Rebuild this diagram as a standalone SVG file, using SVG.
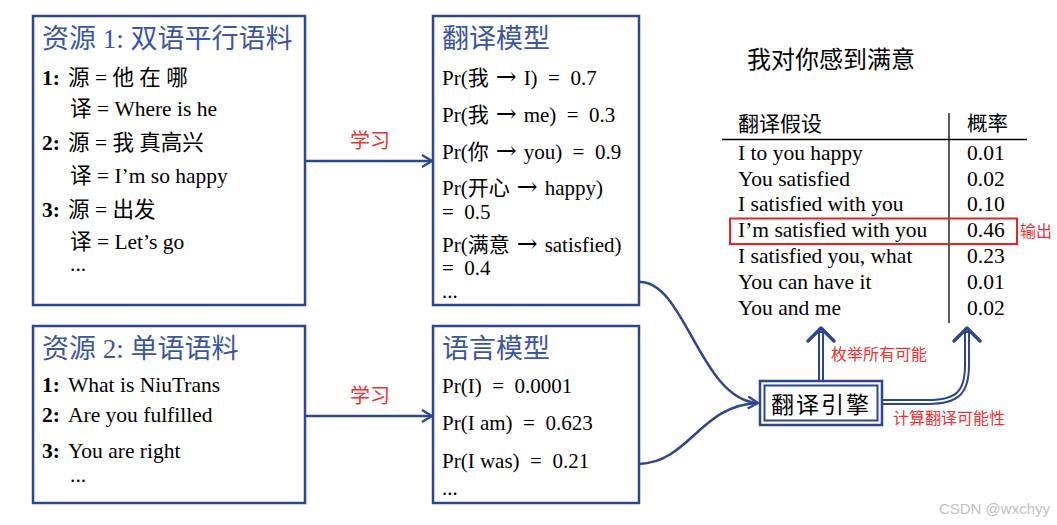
<svg xmlns="http://www.w3.org/2000/svg" width="1057" height="525" viewBox="0 0 1057 525">
<style>
.box{fill:#fff;stroke:#2c4594;stroke-width:2.5}
.title{font-family:"Liberation Serif","Noto Sans CJK SC",serif;font-size:27px;fill:#3a55a6}
.t{font-family:"Liberation Serif","Noto Sans CJK SC",serif;font-size:21.5px;fill:#000}
.m{font-family:"Liberation Serif","Noto Sans CJK SC",serif;font-size:21px;fill:#000}
.tb{font-family:"Liberation Serif","Noto Sans CJK SC",serif;font-size:21.5px;fill:#000}
.b{font-weight:bold}
.ar{font-family:"DejaVu Serif",serif;font-size:25px}
.red{font-family:"Noto Sans CJK SC",sans-serif;fill:#f03030}
.cn{font-family:"Noto Sans CJK SC",sans-serif;fill:#000}
.conn{fill:none;stroke:#2c4594;stroke-width:2.5}
.dbl{fill:none;stroke:#2c4594;stroke-width:6}
.dbli{fill:none;stroke:#fff;stroke-width:2}
.head{fill:none;stroke:#2c4594;stroke-width:3.5;stroke-linecap:round;stroke-linejoin:round}
</style>
<defs>
<marker id="arr" viewBox="0 0 12 14" refX="11" refY="7" markerWidth="12" markerHeight="14" markerUnits="userSpaceOnUse" orient="auto">
<path d="M1,1 L11,7 L1,13" fill="none" stroke="#2c4594" stroke-width="2.2"/>
</marker>
</defs>
<rect width="1057" height="525" fill="#fff"/>

<g id="connectors">
<line class="conn" x1="305" y1="161" x2="432" y2="161" marker-end="url(#arr)"/>
<text class="red" x="370" y="148" font-size="20" text-anchor="middle">学习</text>
<line class="conn" x1="305" y1="416" x2="432" y2="416" marker-end="url(#arr)"/>
<text class="red" x="370" y="403" font-size="20" text-anchor="middle">学习</text>
<path class="conn" d="M639,282 C685,280 700,400 758,403" marker-end="url(#arr)"/>
<path class="conn" d="M639,464 C690,462 700,405 758,403"/>
<path class="dbl" d="M821,381 L821,331"/>
<path class="dbli" d="M821,383 L821,333"/>
<path class="head" d="M808,341 L821,328 L834,341"/>
<path class="dbl" d="M882,402 L928,402 C958,402 967,392 967,365 L967,331"/>
<path class="dbli" d="M880,402 L928,402 C958,402 967,392 967,365 L967,333"/>
<path class="head" d="M954,341 L967,328 L980,341"/>
<text class="red" x="831" y="360" font-size="16">枚举所有可能</text>
<text class="red" x="893" y="424" font-size="16">计算翻译可能性</text>
</g>

<g id="res1">
<rect class="box" x="33" y="16" width="272" height="289"/>
<text class="title" x="42" y="48">资源 1: 双语平行语料</text>
<text class="t b" x="42" y="85">1:</text>
<text class="t" x="68" y="85">源 = 他 在 哪</text>
<text class="t" x="70" y="116">译 = Where is he</text>
<text class="t b" x="42" y="150">2:</text>
<text class="t" x="68" y="150">源 = 我 真高兴</text>
<text class="t" x="70" y="183">译 = I’m so happy</text>
<text class="t b" x="42" y="217">3:</text>
<text class="t" x="68" y="217">源 = 出发</text>
<text class="t" x="70" y="249">译 = Let’s go</text>
<text class="t" x="70" y="271">...</text>
</g>

<g id="res2">
<rect class="box" x="33" y="326" width="272" height="177"/>
<text class="title" x="42" y="358">资源 2: 单语语料</text>
<text class="t b" x="42" y="392">1:</text>
<text class="t" x="68" y="392">What is NiuTrans</text>
<text class="t b" x="42" y="422">2:</text>
<text class="t" x="68" y="422">Are you fulfilled</text>
<text class="t b" x="42" y="458">3:</text>
<text class="t" x="68" y="458">You are right</text>
<text class="t" x="70" y="482">...</text>
</g>

<g id="tm">
<rect class="box" x="433" y="16" width="206" height="289"/>
<text class="title" x="442" y="48">翻译模型</text>
<text class="m" x="442" y="85">Pr(我&#8196;<tspan class="ar">→</tspan>&#8196;I)&#8194;=&#8194;0.7</text>
<text class="m" x="442" y="122">Pr(我&#8196;<tspan class="ar">→</tspan>&#8196;me)&#8194;=&#8194;0.3</text>
<text class="m" x="442" y="159">Pr(你&#8196;<tspan class="ar">→</tspan>&#8196;you)&#8194;=&#8194;0.9</text>
<text class="m" x="442" y="195">Pr(开心&#8196;<tspan class="ar">→</tspan>&#8196;happy)</text>
<text class="m" x="442" y="219">=&#8194;0.5</text>
<text class="m" x="442" y="252">Pr(满意&#8196;<tspan class="ar">→</tspan>&#8196;satisfied)</text>
<text class="m" x="442" y="275">=&#8194;0.4</text>
<text class="m" x="442" y="298">...</text>
</g>

<g id="lm">
<rect class="box" x="433" y="326" width="206" height="177"/>
<text class="title" x="442" y="358">语言模型</text>
<text class="m" x="442" y="393">Pr(I)&#8194;=&#8194;0.0001</text>
<text class="m" x="442" y="430">Pr(I am)&#8194;=&#8194;0.623</text>
<text class="m" x="442" y="468">Pr(I was)&#8194;=&#8194;0.21</text>
<text class="m" x="442" y="495">...</text>
</g>

<g id="engine">
<rect x="760" y="381" width="122" height="44" fill="#fff" stroke="#2c4594" stroke-width="2.5"/>
<rect x="764.5" y="385.5" width="113" height="35" fill="#fff" stroke="#2c4594" stroke-width="2"/>
<text class="cn" x="821" y="413" font-size="23" text-anchor="middle" letter-spacing="2">翻译引擎</text>
</g>

<g id="sentence">
<text class="cn" x="747" y="68" font-size="24">我对你感到满意</text>
</g>

<g id="table">
<line x1="722" y1="139.5" x2="1027" y2="139.5" stroke="#000" stroke-width="1.3"/>
<line x1="949" y1="113" x2="949" y2="323" stroke="#000" stroke-width="1.3"/>
<text class="cn" x="738" y="131" font-size="21">翻译假设</text>
<text class="cn" x="967" y="131" font-size="20.5">概率</text>
<text class="tb" x="738" y="160">I to you happy</text>
<text class="tb" x="967" y="160">0.01</text>
<text class="tb" x="738" y="186">You satisfied</text>
<text class="tb" x="967" y="186">0.02</text>
<text class="tb" x="738" y="211">I satisfied with you</text>
<text class="tb" x="967" y="211">0.10</text>
<text class="tb" x="738" y="237">I’m satisfied with you</text>
<text class="tb" x="967" y="237">0.46</text>
<text class="tb" x="738" y="263">I satisfied you, what</text>
<text class="tb" x="967" y="263">0.23</text>
<text class="tb" x="738" y="289">You can have it</text>
<text class="tb" x="967" y="289">0.01</text>
<text class="tb" x="738" y="315">You and me</text>
<text class="tb" x="967" y="315">0.02</text>
<rect x="730" y="218.5" width="287" height="25.5" fill="none" stroke="#f02020" stroke-width="2"/>
<text class="red" x="1020" y="237" font-size="16">输出</text>
</g>

<text x="1050" y="514" font-family="Liberation Sans,sans-serif" font-size="15" fill="#c0c0c0" text-anchor="end">CSDN @wxchyy</text>
</svg>
